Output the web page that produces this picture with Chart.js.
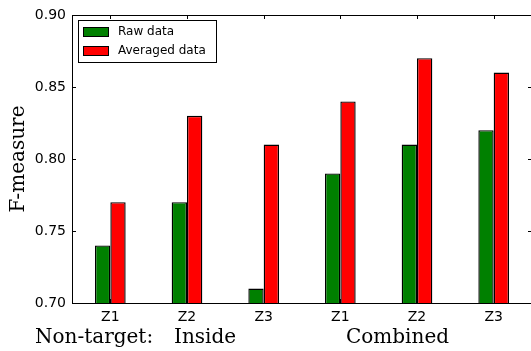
<!DOCTYPE html>
<html>
  <head>
    <meta charset="utf-8">
    <title>F-measure</title>
    <style>
      html, body { margin: 0; padding: 0; background: #fff; }
      #wrap { width: 531px; height: 351px; overflow: hidden; }
    </style>
  </head>
  <body>
    <div id="wrap"><canvas id="bar-chart" width="540" height="351"></canvas></div>

    <script src="https://cdn.jsdelivr.net/npm/chart.js@4/dist/chart.umd.min.js"></script>
    <script>
    const categories = ['Z1', 'Z2', 'Z3', 'Z1', 'Z2', 'Z3'];
    const rawData = [0.74, 0.77, 0.71, 0.79, 0.81, 0.82];
    const averagedData = [0.77, 0.83, 0.81, 0.84, 0.87, 0.86];
    const yTicks = [0.70, 0.75, 0.80, 0.85, 0.90];
    const groupLabels = [['Non-target:', 35], ['Inside', 174], ['Combined', 346]];

    const sans = 'DejaVu Sans';
    const serif = 'DejaVu Serif';

    // frame, inward ticks, legend box and the group labels below the axis
    const extras = {
      id: 'extras',
      afterDraw(chart) {
        const ctx = chart.ctx;
        const a = chart.chartArea;
        const x = chart.scales.x, y = chart.scales.y;
        ctx.save();
        ctx.strokeStyle = '#000';
        ctx.lineWidth = 1;
        ctx.beginPath();
        ctx.moveTo(a.left, a.top + 0.5); ctx.lineTo(a.right, a.top + 0.5);
        ctx.moveTo(a.right - 0.5, a.top); ctx.lineTo(a.right - 0.5, a.bottom);
        yTicks.forEach(v => {
          const py = Math.round(y.getPixelForValue(v)) + 0.5;
          ctx.moveTo(a.left, py); ctx.lineTo(a.left + 4, py);
          ctx.moveTo(a.right, py); ctx.lineTo(a.right - 4, py);
        });
        categories.forEach((c, i) => {
          const px = Math.round(x.getPixelForValue(i)) + 0.5;
          ctx.moveTo(px, a.top); ctx.lineTo(px, a.top + 4);
          ctx.moveTo(px, a.bottom); ctx.lineTo(px, a.bottom - 4);
        });
        ctx.stroke();

        // legend
        const lx = 78, ly = 20, lw = 138, lh = 42;
        ctx.fillStyle = '#fff';
        ctx.fillRect(lx, ly, lw, lh);
        ctx.strokeRect(lx + 0.5, ly + 0.5, lw, lh);
        ctx.font = '12px "' + sans + '"';
        ctx.textBaseline = 'middle';
        chart.data.datasets.forEach((ds, i) => {
          const ry = ly + 7 + i * 19;
          ctx.fillStyle = ds.backgroundColor;
          ctx.fillRect(lx + 5, ry, 25, 9);
          ctx.strokeRect(lx + 5.5, ry + 0.5, 25, 9);
          ctx.fillStyle = '#000';
          ctx.fillText(ds.label, lx + 40, ry + 5);
        });

        ctx.font = '20px "' + serif + '"';
        ctx.textBaseline = 'alphabetic';
        ctx.textAlign = 'left';
        groupLabels.forEach(g => ctx.fillText(g[0], g[1], 343));
        ctx.restore();
      }
    };

    new Chart(document.getElementById('bar-chart'), {
      type: 'bar',
      data: {
        labels: categories,
        datasets: [
          { label: 'Raw data', data: rawData, backgroundColor: '#008000', borderColor: '#000', borderWidth: 1.4 },
          { label: 'Averaged data', data: averagedData, backgroundColor: '#ff0000', borderColor: '#000', borderWidth: 1.4 },
        ],
      },
      options: {
        responsive: false,
        devicePixelRatio: 1,
        animation: false,
        categoryPercentage: 0.4,
        barPercentage: 1.0,
        layout: { padding: { left: 0, top: 15, right: 8, bottom: 0 } },
        plugins: { legend: { display: false }, tooltip: { enabled: false } },
        scales: {
          x: {
            grid: { display: false, drawTicks: false },
            border: { display: true, color: '#000', width: 1 },
            ticks: { color: '#000', font: { family: sans, size: 14 }, padding: 6, maxRotation: 0 },
            afterFit(s) { s.height = 48; },
          },
          y: {
            min: 0.70,
            max: 0.90,
            grid: { display: false, drawTicks: false },
            border: { display: true, color: '#000', width: 1 },
            afterBuildTicks(s) { s.ticks = yTicks.map(v => ({ value: v })); },
            ticks: { color: '#000', font: { family: sans, size: 14 }, padding: 6, callback: v => v.toFixed(2) },
            title: { display: true, text: 'F-measure', color: '#000', font: { family: serif, size: 20 }, padding: { top: 7, bottom: 0 } },
            afterFit(s) { s.width = 72; },
          },
        },
      },
      plugins: [extras],
    });
    </script>
  </body>
</html>
